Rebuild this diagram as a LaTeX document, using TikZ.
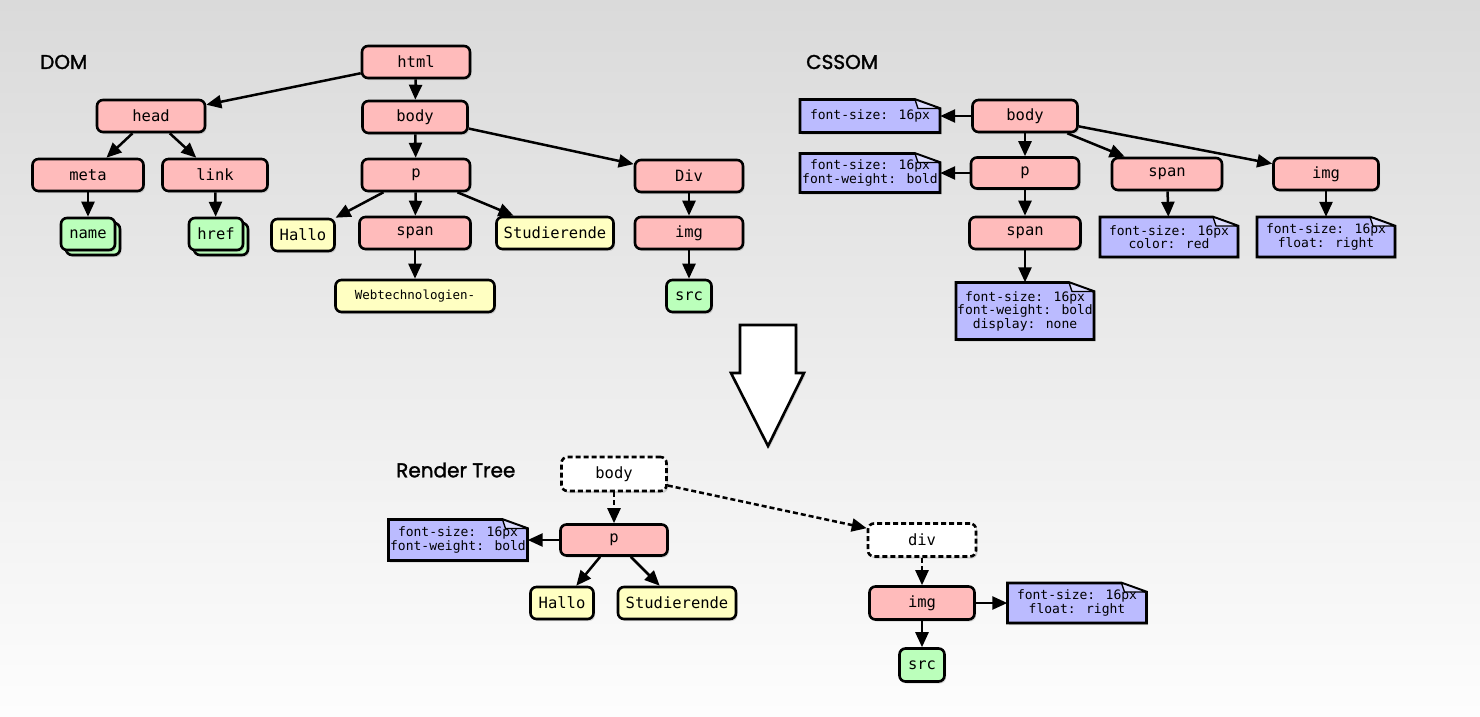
\documentclass[tikz,border=0pt]{standalone}
\usepackage{fontspec}
\usetikzlibrary{arrows.meta,shadows}
\newfontfamily\monofnt{DejaVu Sans Mono}
\newfontfamily\titlefnt{Poppins}[FakeBold=1.5]
\definecolor{pk}{HTML}{FFBBBB}
\definecolor{yl}{HTML}{FFFFC2}
\definecolor{gn}{HTML}{BBFFBB}
\definecolor{lv}{HTML}{BBBBFF}
\definecolor{lvl}{HTML}{DDDDFF}
\definecolor{bgtop}{HTML}{DADADA}
\definecolor{bgbot}{HTML}{FDFDFD}
\tikzset{
  box/.style={rounded corners=6pt, draw, line width=2.6pt, minimum height=32pt,
    inner sep=0pt, font=\monofnt\fontsize{15.5}{18}\selectfont,
    drop shadow={shadow xshift=1.5pt, shadow yshift=-2pt, opacity=0.3}},
  pinkbox/.style={box, fill=pk},
  yellowbox/.style={box, fill=yl},
  greenbox/.style={box, fill=gn},
  dashbox/.style={box, fill=white, dash pattern=on 5pt off 3pt},
  edge/.style={line width=2.5pt, -{Triangle[length=15pt,width=13pt]}},
  dedge/.style={edge, dash pattern=on 5pt off 3pt},
  notetext/.style={inner sep=0pt, align=center, font=\monofnt\fontsize{13}{13.5}\selectfont},
  notepath/.style={draw, line width=2.6pt, fill=lv, line join=miter,
    drop shadow={shadow xshift=1.5pt, shadow yshift=-2pt, opacity=0.3}},
  foldpath/.style={draw, line width=1.3pt, fill=lvl, line join=round},
  title/.style={anchor=west, inner sep=0pt, font=\titlefnt\fontsize{20}{22}\selectfont}
}
\newcommand\cssnote[6]{%
  \begin{scope}[shift={(#2,#3)}]
    \pgfmathsetmacro\nw{#4/2}\pgfmathsetmacro\nh{#5/2}
    \draw[notepath] (-\nw,\nh) -- (-\nw,-\nh) -- (\nw-25,-\nh) -- (\nw,-\nh+9) -- (\nw,\nh) -- cycle;
    \draw[foldpath] (\nw-25,-\nh) -- (\nw-22,-\nh+9) -- (\nw,-\nh+9) -- cycle;
    \node[notetext, minimum width=#4pt, minimum height=#5pt] (#1) at (0,0) {#6};
  \end{scope}}
\begin{document}
\begin{tikzpicture}[x=1pt,y=-1pt]
\shade[top color=bgtop, bottom color=bgbot] (0,0) rectangle (1480,716);
\useasboundingbox (0,0) rectangle (1480,716);

% titles
\node[title] (tdom) at (40,62) {DOM};
\node[title] (tcss) at (806,62) {CSSOM};
\node[title] (trt) at (396,470) {Render Tree};

% ---------------- DOM ----------------
\node[pinkbox, minimum width=108pt] (html) at (416,62) {html};
\node[pinkbox, minimum width=108pt] (head) at (151,116) {head};
\node[pinkbox, minimum width=105pt] (body) at (415,117) {body};
\node[pinkbox, minimum width=111pt] (meta) at (88,175) {meta};
\node[pinkbox, minimum width=105pt] (link) at (215,175) {link};
\node[pinkbox, minimum width=108pt] (p) at (416,175) {p};
\node[pinkbox, minimum width=108pt] (div) at (689,176) {Div};
\node[greenbox, minimum width=54pt] (nameb) at (93,239) {};
\node[greenbox, minimum width=54pt] (name) at (88,234) {name};
\node[greenbox, minimum width=54pt] (hrefb) at (221,239) {};
\node[greenbox, minimum width=54pt] (href) at (216,234) {href};
\node[yellowbox, minimum width=63pt] (hallo) at (303,235) {Hallo};
\node[pinkbox, minimum width=111pt] (span) at (415,233) {span};
\node[yellowbox, minimum width=117pt] (stud) at (555,233) {Studierende};
\node[pinkbox, minimum width=108pt] (img) at (689,233) {img};
\node[yellowbox, minimum width=159pt, font=\monofnt\fontsize{12.5}{15}\selectfont] (web) at (415,296) {Webtechnologien-};
\node[greenbox, minimum width=45pt] (src) at (689,296) {src};

\draw[edge] (html) -- (head);
\draw[edge] (html) -- (body);
\draw[edge] (head) -- (meta);
\draw[edge] (head) -- (link);
\draw[edge] (body) -- (p);
\draw[edge] (body) -- (div);
\draw[edge] (meta) -- (name);
\draw[edge] (link) -- (href);
\draw[edge] (p) -- (hallo);
\draw[edge] (p) -- (span);
\draw[edge] (p) -- (stud);
\draw[edge] (span) -- (web);
\draw[edge] (div) -- (img);
\draw[edge] (img) -- (src);

% ---------------- CSSOM ----------------
\node[pinkbox, minimum width=105pt] (cbody) at (1025,116) {body};
\node[pinkbox, minimum width=108pt, minimum height=31pt] (cp) at (1025,173) {p};
\node[pinkbox, minimum width=110pt] (cspanb) at (1167,174) {span};
\node[pinkbox, minimum width=105pt] (cimg) at (1326,174) {img};
\node[pinkbox, minimum width=111pt] (cspan) at (1025,233) {span};
\cssnote{n1}{870}{116}{140}{33}{font-size: 16px}
\cssnote{n2}{870}{173}{140}{39}{font-size: 16px\\font-weight: bold}
\cssnote{n3}{1169}{237}{138}{40}{font-size: 16px\\color: red}
\cssnote{n4}{1326}{237}{138}{40}{font-size: 16px\\float: right}
\cssnote{n5}{1025}{311}{138}{57}{font-size: 16px\\font-weight: bold\\display: none}

\draw[edge] (cbody) -- (n1);
\draw[edge] (cbody) -- (cp);
\draw[edge] (cbody) -- (cspanb);
\draw[edge] (cbody) -- (cimg);
\draw[edge] (cp) -- (n2);
\draw[edge] (cp) -- (cspan);
\draw[edge] (cspanb) -- (n3);
\draw[edge] (cimg) -- (n4);
\draw[edge] (cspan) -- (n5);

% ---------------- big arrow ----------------
\draw[line width=2.6pt, fill=white, line join=miter,
  drop shadow={shadow xshift=1.5pt, shadow yshift=-2pt, opacity=0.3}]
  (740,325) -- (796,325) -- (796,373) -- (804,373) -- (768,446) -- (731,373) -- (740,373) -- cycle;

% ---------------- Render Tree ----------------
\node[dashbox, minimum width=105pt, minimum height=34pt] (rbody) at (614,474) {body};
\node[pinkbox, minimum width=107pt, minimum height=31pt] (rp) at (614,540) {p};
\node[yellowbox, minimum width=63pt] (rhallo) at (562,603) {Hallo};
\node[yellowbox, minimum width=118pt] (rstud) at (677,603) {Studierende};
\node[dashbox, minimum width=108pt, minimum height=33pt] (rdiv) at (922,540) {div};
\node[pinkbox, minimum width=105pt, minimum height=33pt] (rimg) at (922,603) {img};
\node[greenbox, minimum width=45pt, minimum height=33pt] (rsrc) at (922,665) {src};
\cssnote{rn1}{458}{540}{139}{41}{font-size: 16px\\font-weight: bold}
\cssnote{rn2}{1077}{603}{139}{40}{font-size: 16px\\float: right}

\draw[dedge] (rbody) -- (rp);
\draw[dedge] (rbody) -- (rdiv);
\draw[dedge] (rdiv) -- (rimg);
\draw[edge] (rp) -- (rn1);
\draw[edge] (rp) -- (rhallo);
\draw[edge] (rp) -- (rstud);
\draw[edge] (rimg) -- (rn2);
\draw[edge] (rimg) -- (rsrc);
\end{tikzpicture}
\end{document}
